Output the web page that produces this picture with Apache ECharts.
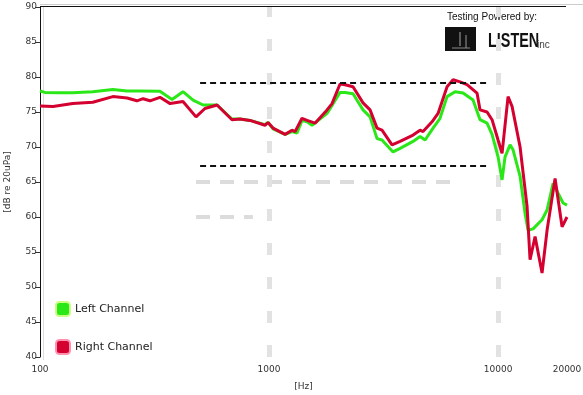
<!DOCTYPE html>
<html>
<head>
<meta charset="utf-8">
<script src="https://cdn.jsdelivr.net/npm/echarts@6/dist/echarts.min.js"></script>
<style>
html,body{margin:0;padding:0;background:#fff;}
#c{width:583px;height:395px;}
</style>
</head>
<body>
<div id="c"></div>
<script>
// ---- data ----
const leftFreq = [100,105,122,139,170,208,240,273,334,377,421,466,515,593,689,747,826,960,990,1041,1175,1260,1325,1393,1466,1541,1792,2042,2147,2327,2573,2761,2962,3114,3479,3734,4255,4564,4800,5202,5580,5989,6490,7033,7778,8343,8954,9415,10000,10411,10730,11283,11627,12479,13122,13521,14219,15564,16368,17389,18281,19224,20000];
const leftDb   = [78.0,77.8,77.75,77.75,77.9,78.2,78.0,78.0,77.95,76.8,77.9,76.7,76.0,76.0,74.0,74.0,73.8,73.2,73.5,72.6,71.8,72.2,72.0,73.8,73.6,73.1,74.8,77.8,77.8,77.6,75.3,74.3,71.2,71.0,69.3,69.8,70.8,71.5,71.0,72.7,74.1,77.2,77.9,77.7,76.7,73.9,73.4,71.8,68.6,65.3,68.6,70.3,69.6,65.8,60.5,58.1,58.3,59.6,61.0,64.8,63.4,62.0,61.7];

const rightFreq = [100,114,139,170,208,240,265,282,302,334,370,421,480,525,593,689,747,826,960,990,1041,1175,1260,1299,1393,1466,1588,1792,1884,2042,2147,2327,2573,2761,2962,3114,3444,3734,4255,4564,4704,5150,5470,5989,6361,6824,7321,8095,8343,8954,9415,10000,10411,11058,11511,12479,13388,13795,14508,15564,16368,17742,19032,20000];
const rightDb   = [75.86,75.8,76.2,76.4,77.2,77.0,76.6,76.9,76.6,77.1,76.2,76.5,74.3,75.5,76.0,73.9,74.0,73.8,73.1,73.5,72.7,71.8,72.4,72.2,74.1,73.8,73.4,75.3,76.2,79.0,78.9,78.6,76.3,75.3,72.7,72.4,70.3,70.8,71.7,72.4,72.2,73.6,74.8,78.6,79.6,79.3,78.9,77.7,75.3,75.0,73.9,71.0,69.1,77.2,75.8,70.0,61.5,53.9,57.2,52.0,58.1,65.5,58.6,60.0];

const seriesNames = ['Left Channel','Right Channel'];
const xTickValues = [100,1000,10000,20000];
const xGridValues = [1000,10000];
const yMin = 40, yMax = 90, yStep = 5;
const refLevels = [79.2, 67.3];
const refRange = [500, 9000];
const grayDashLevels = [65, 60];
const grayDashRanges = [[480, 6200], [480, 850]];

const zip = (a,b) => a.map((v,i)=>[v,b[i]]);

const chart = echarts.init(document.getElementById('c'), null, {renderer:'canvas'});
const FONT = 'DejaVu Sans';
const GREEN = '#2ae818', RED = '#d4002f';

const option = {
  animation:false,
  backgroundColor:'#fff',
  grid:{left:40, right:16, top:7, bottom:38, containLabel:false, outerBoundsMode:'none'},
  legend:{
    orient:'vertical', left:50, top:296, itemGap:22,
    itemWidth:14, itemHeight:14, icon:'roundRect',
    textStyle:{fontFamily:FONT, fontSize:11, color:'#222'},
    data:seriesNames.map((n,i)=>({name:n, itemStyle:{color:i?RED:GREEN, borderColor:i?'#ff90b0':'#c8ff80', borderWidth:2}}))
  },
  xAxis:{
    type:'log', logBase:10, min:100, max:20000,
    name:'[Hz]', nameLocation:'middle', nameGap:25,
    nameTextStyle:{fontFamily:FONT, fontSize:9, color:'#333'},
    axisLine:{show:false},
    axisTick:{show:false},
    minorTick:{show:false},
    axisLabel:{customValues:xTickValues, fontFamily:FONT, fontSize:9, color:'#333', margin:8,
      formatter:v=>String(Math.round(v))},
    splitLine:{show:false},
    minorSplitLine:{show:false}
  },
  yAxis:{
    type:'value', min:yMin, max:yMax, interval:yStep,
    name:'[dB re 20uPa]', nameLocation:'middle', nameGap:28,
    nameTextStyle:{fontFamily:FONT, fontSize:9, color:'#333'},
    axisLine:{show:true, lineStyle:{color:'#111', width:1}},
    axisTick:{show:true, length:5, lineStyle:{color:'#333'}},
    axisLabel:{fontFamily:FONT, fontSize:9, color:'#333', margin:3},
    splitLine:{show:false}
  },
  series:[
    {
      name:seriesNames[0], type:'line', data:zip(leftFreq,leftDb),
      showSymbol:false, symbol:'none', smooth:false,
      lineStyle:{color:GREEN, width:3}, itemStyle:{color:GREEN},
      z:2,
      markLine:{
        silent:true, symbol:'none', label:{show:false}, z:1,
        lineStyle:{color:'#dcdcdc', width:4, type:[14,10]},
        data:grayDashLevels.map((lv,i)=>[{coord:[grayDashRanges[i][0],lv]},{coord:[grayDashRanges[i][1],lv]}])
          .concat(xGridValues.map(v=>({xAxis:v, lineStyle:{color:'#e2e2e2', width:5, type:[12,22]}})))
      }
    },
    {
      name:seriesNames[1], type:'line', data:zip(rightFreq,rightDb),
      showSymbol:false, symbol:'none', smooth:false,
      lineStyle:{color:RED, width:3}, itemStyle:{color:RED},
      z:3,
      markLine:{
        silent:true, symbol:'none', label:{show:false},
        lineStyle:{color:'#111', width:2, type:[6,4]},
        data:refLevels.map(lv=>[{coord:[refRange[0],lv]},{coord:[refRange[1],lv]}])
      }
    }
  ],
  graphic:[
    {type:'line', shape:{x1:40,y1:6.5,x2:566,y2:6.5}, style:{stroke:'#111', lineWidth:1}, silent:true},
    {type:'line', shape:{x1:40,y1:4.5,x2:583,y2:4.5}, style:{stroke:'#ccc', lineWidth:1}, silent:true},
    {type:'line', shape:{x1:43.5,y1:7,x2:43.5,y2:360}, style:{stroke:'#ddd', lineWidth:1}, silent:true},
    {type:'text', x:447, y:12, style:{text:'Testing Powered by:', fontFamily:'Liberation Sans', fontSize:10, fill:'#111'}},
    {type:'rect', shape:{x:445, y:27, width:31, height:24}, style:{fill:'#111'}},
    {type:'line', shape:{x1:452,y1:48,x2:470,y2:48}, style:{stroke:'#888', lineWidth:1}},
    {type:'line', shape:{x1:460,y1:32,x2:460,y2:46}, style:{stroke:'#aaa', lineWidth:1}},
    {type:'line', shape:{x1:466,y1:35,x2:466,y2:48}, style:{stroke:'#999', lineWidth:1}},
    {type:'text', x:488, y:31, scaleX:0.72, style:{text:'LISTEN', fontFamily:'Liberation Sans', fontWeight:'bold', fontSize:20, fill:'#111'}},
    {type:'text', x:537, y:40, style:{text:'inc', fontFamily:'Liberation Sans', fontSize:10, fill:'#444'}}
  ]
};
chart.setOption(option);
</script>
</body>
</html>
